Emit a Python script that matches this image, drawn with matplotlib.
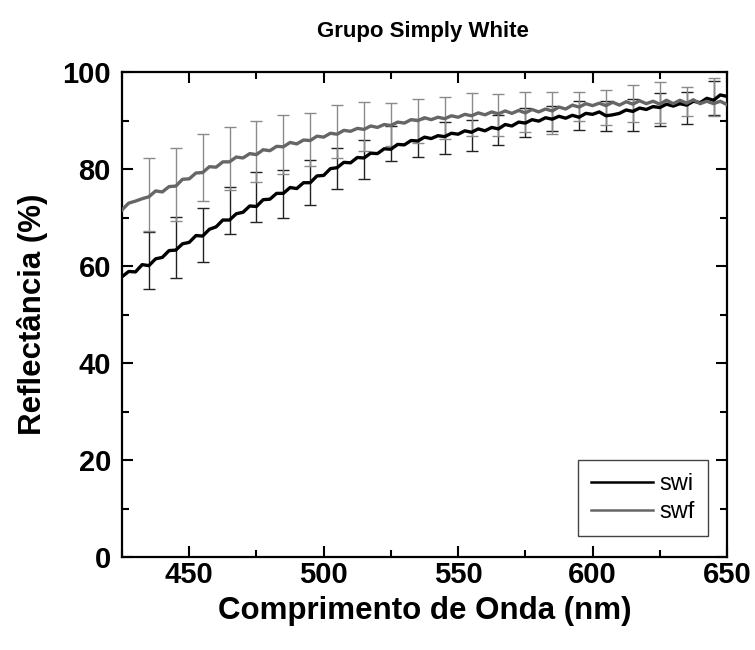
import matplotlib.pyplot as plt
from matplotlib.ticker import MultipleLocator
from matplotlib.lines import Line2D

# wavelength grid (nm), 2.5 nm steps
wavelength = [
    425.0, 427.5, 430.0, 432.5, 435.0, 437.5, 440.0, 442.5, 445.0, 447.5,
    450.0, 452.5, 455.0, 457.5, 460.0, 462.5, 465.0, 467.5, 470.0, 472.5,
    475.0, 477.5, 480.0, 482.5, 485.0, 487.5, 490.0, 492.5, 495.0, 497.5,
    500.0, 502.5, 505.0, 507.5, 510.0, 512.5, 515.0, 517.5, 520.0, 522.5,
    525.0, 527.5, 530.0, 532.5, 535.0, 537.5, 540.0, 542.5, 545.0, 547.5,
    550.0, 552.5, 555.0, 557.5, 560.0, 562.5, 565.0, 567.5, 570.0, 572.5,
    575.0, 577.5, 580.0, 582.5, 585.0, 587.5, 590.0, 592.5, 595.0, 597.5,
    600.0, 602.5, 605.0, 607.5, 610.0, 612.5, 615.0, 617.5, 620.0, 622.5,
    625.0, 627.5, 630.0, 632.5, 635.0, 637.5, 640.0, 642.5, 645.0, 647.5,
    650.0,
]

swi = [
    57.8, 58.9, 58.8, 60.3, 60.1, 61.5, 61.8, 63.2, 63.3, 64.6,
    64.9, 66.3, 66.2, 67.6, 68.1, 69.5, 69.5, 70.8, 71.1, 72.4,
    72.3, 73.7, 73.8, 75.0, 75.0, 76.2, 76.0, 77.2, 77.2, 78.6,
    78.7, 80.1, 80.3, 81.4, 81.3, 82.4, 82.3, 83.3, 83.2, 84.2,
    84.1, 85.1, 85.0, 85.9, 85.8, 86.6, 86.3, 86.9, 86.7, 87.4,
    87.2, 87.9, 87.6, 88.3, 87.9, 88.6, 88.3, 89.2, 88.9, 89.7,
    89.5, 90.2, 89.9, 90.6, 90.3, 90.9, 90.5, 91.1, 90.7, 91.5,
    91.3, 91.8, 91.0, 91.2, 91.5, 92.2, 91.9, 92.6, 92.3, 92.9,
    92.7, 93.4, 93.0, 93.5, 93.2, 94.0, 93.7, 94.6, 94.2, 95.3,
    95.0,
]

swf = [
    71.6, 73.0, 73.4, 73.9, 74.3, 75.5, 75.3, 76.4, 76.5, 77.9,
    78.0, 79.2, 79.3, 80.5, 80.4, 81.5, 81.5, 82.5, 82.3, 83.2,
    83.0, 84.0, 83.8, 84.7, 84.6, 85.5, 85.2, 86.0, 85.9, 86.8,
    86.6, 87.4, 87.2, 88.0, 87.8, 88.4, 88.2, 88.9, 88.6, 89.2,
    89.0, 89.7, 89.5, 90.2, 90.0, 90.6, 90.2, 90.7, 90.4, 91.0,
    90.7, 91.3, 91.0, 91.6, 91.2, 91.8, 91.4, 92.0, 91.5, 92.1,
    91.6, 92.3, 91.8, 92.4, 92.0, 92.8, 92.4, 93.2, 92.8, 93.5,
    93.1, 93.6, 93.1, 93.8, 93.2, 93.9, 93.4, 94.1, 93.5, 94.0,
    93.4, 94.2, 93.5, 94.2, 93.6, 94.3, 93.5, 94.0, 93.5, 94.0,
    93.3,
]

# error bars (every 10 nm)
bar_x = [435, 445, 455, 465, 475, 485, 495, 505, 515, 525, 535,
         545, 555, 565, 575, 585, 595, 605, 615, 625, 635, 645]
swi_mid = [61.2, 63.85, 66.45, 71.55, 74.25, 74.85, 77.2, 80.15, 82.05, 85.25, 86.35,
           86.4, 86.95, 88.05, 89.65, 90.5, 91.05, 90.95, 91.15, 92.25, 92.65, 94.7]
swi_err = [5.9, 6.25, 5.55, 4.85, 5.25, 4.95, 4.7, 4.25, 4.05, 3.55, 3.95,
           3.3, 3.25, 3.15, 2.95, 2.6, 2.95, 3.15, 3.3, 3.45, 3.35, 3.5]
swf_mid = [74.7, 76.8, 80.4, 82.15, 83.65, 85.1, 86.1, 87.75, 88.75, 89.2, 89.9,
           90.6, 91.2, 91.15, 91.8, 91.6, 92.9, 92.65, 93.55, 93.7, 93.95, 94.9]
swf_err = [7.5, 7.6, 6.9, 6.55, 6.35, 6.1, 5.5, 5.45, 5.05, 4.4, 4.5,
           4.3, 4.4, 4.25, 4.1, 4.3, 3.0, 3.65, 3.75, 4.2, 3.05, 3.9]

plt.rcParams['font.family'] = ['Liberation Sans', 'DejaVu Sans']

fig = plt.figure(figsize=(7.55, 6.5), dpi=100)
ax = fig.add_axes([0.1616, 0.143, 0.8013, 0.746])

swi_color = 'black'
swf_color = '#666666'

ax.errorbar(bar_x, swi_mid, yerr=swi_err, fmt='none', ecolor='#222222',
            elinewidth=1.0, capsize=4, capthick=1.0, zorder=2)
ax.errorbar(bar_x, swf_mid, yerr=swf_err, fmt='none', ecolor='#8a8a8a',
            elinewidth=1.0, capsize=4, capthick=1.0, zorder=2)
ax.plot(wavelength, swi, color=swi_color, lw=2.4, zorder=3)
ax.plot(wavelength, swf, color=swf_color, lw=2.4, zorder=4)

ax.set_xlim(425, 650)
ax.set_ylim(0, 100)
ax.xaxis.set_major_locator(MultipleLocator(50))
ax.xaxis.set_minor_locator(MultipleLocator(25))
ax.yaxis.set_major_locator(MultipleLocator(20))
ax.yaxis.set_minor_locator(MultipleLocator(10))
ax.tick_params(which='both', direction='in', top=True, right=True, width=1.5)
ax.tick_params(which='major', length=8, labelsize=21)
ax.tick_params(axis='x', which='major', pad=3)
ax.tick_params(axis='y', which='major', pad=8)
ax.tick_params(which='minor', length=5)
for lab in ax.get_xticklabels() + ax.get_yticklabels():
    lab.set_fontweight('bold')
for sp in ax.spines.values():
    sp.set_linewidth(1.6)

ax.set_xlabel('Comprimento de Onda (nm)', fontsize=22.5, fontweight='bold', labelpad=5)
ax.set_ylabel('Reflectância (%)', fontsize=22.5, fontweight='bold', labelpad=10)
fig.text(0.56, 0.951, 'Grupo Simply White', ha='center', va='center',
         fontsize=16, fontweight='bold')

handles = [Line2D([], [], color=swi_color, lw=1.8),
           Line2D([], [], color=swf_color, lw=1.8)]
leg = ax.legend(handles, ['swi', 'swf'], loc='lower right',
                bbox_to_anchor=(0.969, 0.043), borderaxespad=0, fontsize=17,
                frameon=True, fancybox=False, edgecolor='#444444', framealpha=1,
                handlelength=2.6, handletextpad=0.3, borderpad=0.55,
                labelspacing=0.25)
leg.get_frame().set_linewidth(1.0)

fig.savefig('out.png', dpi=100)
